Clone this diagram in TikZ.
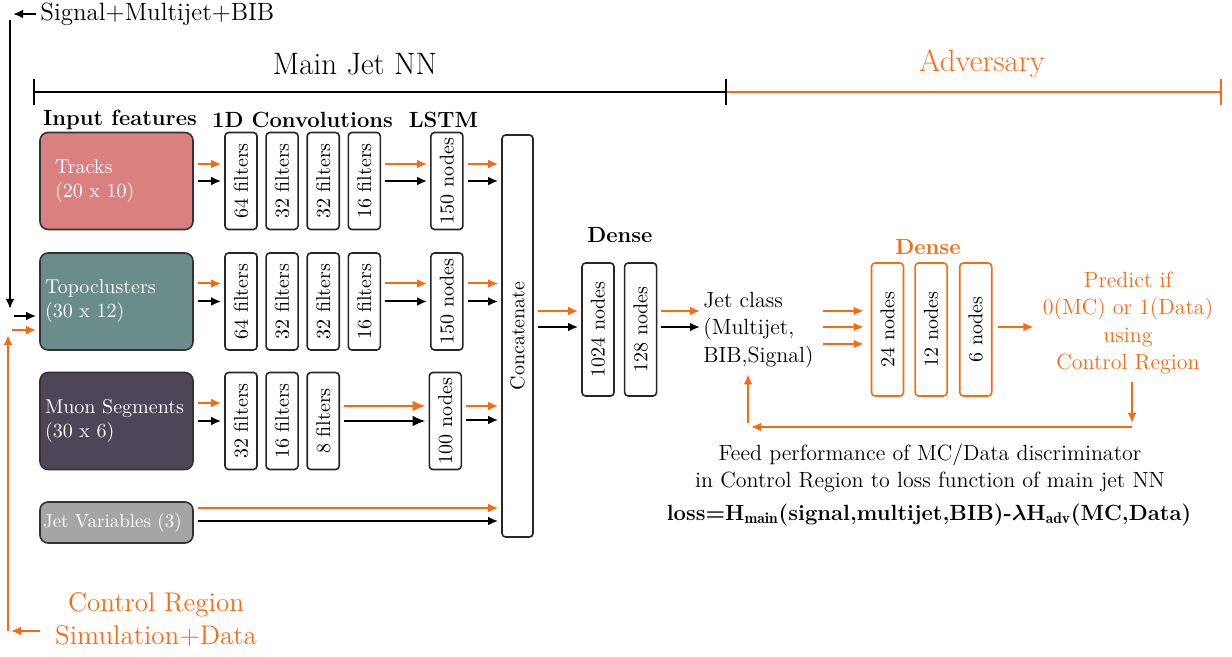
\documentclass[tikz,border=0pt]{standalone}
\usepackage{fontspec}
\usepackage{amsmath}
\usetikzlibrary{arrows.meta, positioning, calc}
\definecolor{advOrange}{RGB}{249,106,18}
\definecolor{trackRed}{RGB}{219,128,128}
\definecolor{topoTeal}{RGB}{106,141,140}
\definecolor{muonPurple}{RGB}{79,69,89}
\definecolor{jetGrey}{RGB}{165,165,165}

\begin{document}
\begin{tikzpicture}[x=0.5pt, y=-0.5pt,
      inbox/.style={rounded corners=4pt, draw=black!80, line width=0.8pt, minimum width=76.5pt, minimum height=48.5pt,
      text width=71.5pt, inner xsep=2.5pt, align=left, text=white, font=\fontsize{10}{12}\selectfont},
      layer/.style={rounded corners=1.8pt, draw=black!85, fill=white, line width=0.8pt, minimum width=16pt,
      minimum height=48.5pt, inner sep=0pt, font=\fontsize{10}{12}\selectfont},
      advlayer/.style={layer, draw=advOrange},
      head/.style={font=\fontsize{11}{13}\selectfont\bfseries},
      karr/.style={-{Latex[length=5pt,width=4.4pt]}, line width=1pt, shorten <=2pt, shorten >=1.5pt},
      oarr/.style={karr, draw=advOrange},
      karrB/.style={karr, -{Latex[length=6.5pt,width=5.5pt]}, line width=1.2pt},
      oarrB/.style={karrB, draw=advOrange}
    ]
    \useasboundingbox (0,0) rectangle (1232,657);

    \node[anchor=west, inner sep=0pt, font=\fontsize{12.5}{15}\selectfont] (sig) at (40,14) {Signal+Multijet+BIB};
    \node[font=\fontsize{15.5}{18}\selectfont] (mainlbl) at (355,64) {Main Jet NN};
    \node[font=\fontsize{15.5}{18}\selectfont, text=advOrange] (advlbl) at (982,64) {Adversary};
    \coordinate (mjL) at (33,92);
    \coordinate (mjR) at (727,92);
    \coordinate (advR) at (1222,92);
    \draw[advOrange, line width=1.2pt, -{Bar[width=13pt]}] (mjR) -- (advR);
    \draw[line width=1.2pt, {Bar[width=13pt]}-{Bar[width=13pt]}] (mjL) -- (mjR);

    \node[head] (hin) at (120,120) {Input features};
    \node[head] (hconv) at (302.5,120) {1D Convolutions};
    \node[head] (hlstm) at (443.5,120) {LSTM};

    \node[inbox, fill=trackRed, inner xsep=7.5pt, text width=61.5pt] (tracks) at (116.5,181) {Tracks\\(20 x 10)};
    \node[inbox, fill=topoTeal] (topo) at (116.5,301.5) {Topoclusters\\(30 x 12)};
    \node[inbox, fill=muonPurple] (muon) at (116.5,421) {Muon Segments\\(30 x 6)};
    \node[inbox, fill=jetGrey, minimum height=20.5pt, inner xsep=1.5pt, text width=73.5pt,
      font=\fontsize{9.5}{12}\selectfont] (jetvar) at (116.5,522.5) {Jet Variables (3)};

    \node[layer] (t1) at (241,181) {\rotatebox{90}{64 filters}};
    \node[layer, right=3.75pt of t1] (t2) {\rotatebox{90}{32 filters}};
    \node[layer, right=3.75pt of t2] (t3) {\rotatebox{90}{32 filters}};
    \node[layer, right=3.75pt of t3] (t4) {\rotatebox{90}{16 filters}};
    \node[layer, right=24.5pt of t4] (tl) {\rotatebox{90}{150 nodes}};

    \node[layer] (p1) at (241,301.5) {\rotatebox{90}{64 filters}};
    \node[layer, right=3.75pt of p1] (p2) {\rotatebox{90}{32 filters}};
    \node[layer, right=3.75pt of p2] (p3) {\rotatebox{90}{32 filters}};
    \node[layer, right=3.75pt of p3] (p4) {\rotatebox{90}{16 filters}};
    \node[layer, right=24.5pt of p4] (pl) {\rotatebox{90}{150 nodes}};

    \node[layer] (m1) at (241,421) {\rotatebox{90}{32 filters}};
    \node[layer, right=3.75pt of m1] (m2) {\rotatebox{90}{16 filters}};
    \node[layer, right=3.75pt of m2] (m3) {\rotatebox{90}{8 filters}};
    \node[layer, right=44.25pt of m3] (ml) {\rotatebox{90}{100 nodes}};

    \node[layer, minimum width=15.5pt, minimum height=201pt] (concat) at (517.5,336) {\rotatebox{90}{Concatenate}};

    \node[head] (hdense) at (620,235) {Dense};
    \node[layer, minimum height=66.5pt] (d1) at (598,329.5) {\rotatebox{90}{1024 nodes}};
    \node[layer, minimum height=66.5pt, right=4.5pt of d1] (d2) {\rotatebox{90}{128 nodes}};
    \node[anchor=west, align=left, inner sep=0pt, font=\fontsize{11}{13.75}\selectfont] (jetcls) at (703,330)
      {Jet class\\(Multijet,\\BIB,Signal)};

    \node[head, text=advOrange] (hadv) at (928,247) {Dense};
    \node[advlayer, minimum height=66.5pt] (a1) at (887.5,329.5) {\rotatebox{90}{24 nodes}};
    \node[advlayer, minimum height=66.5pt, right=5pt of a1] (a2) {\rotatebox{90}{12 nodes}};
    \node[advlayer, minimum height=66.5pt, right=5.5pt of a2] (a3) {\rotatebox{90}{6 nodes}};
    \node[align=center, text=advOrange, inner sep=4pt, font=\fontsize{11}{13.6}\selectfont] (predict) at (1128,323)
      {Predict if\\0(MC) or 1(Data)\\using\\Control Region};

    \node[align=center, font=\fontsize{11}{13.5}\selectfont] (feed) at (930,468.5)
      {Feed performance of MC/Data discriminator\\in Control Region to loss function of main jet NN};
    \node[font=\fontsize{11}{13}\selectfont\bfseries\boldmath] (loss) at (929,515)
      {loss$=$H$_{\mathrm{main}}$(signal,multijet,BIB)-$\lambda$H$_{\mathrm{adv}}$(MC,Data)};

    \node[align=center, text=advOrange, inner sep=0pt, font=\fontsize{13.5}{16.5}\selectfont] (cr) at (156,619.5)
      {Control Region\\Simulation+Data};

    \coordinate (kCorner) at (10,14);
    \coordinate (kTop) at (10,20);
    \coordinate (kBot) at (10,312);
    \coordinate (oTop) at (8,332);
    \coordinate (oBot) at (8,631);
    \coordinate (fbR) at (1132,427);
    \coordinate (fbL) at (748,427);

    \draw[karr] (sig.west) -- (kCorner);
    \draw[karr, shorten <=0pt] (kTop) -- (kBot);
    \draw[karr] ([yshift=-7.25pt]topo.west -| kBot) -- ([yshift=-7.25pt]topo.west);
    \draw[oarr, shorten <=7.5pt] (cr.west |- oBot) -- (oBot);
    \draw[oarr, shorten <=0pt] (oBot) -- (oTop);
    \draw[oarr] ([yshift=-14.25pt]topo.west -| oTop) -- ([yshift=-14.25pt]topo.west);

    \draw[oarr] ([yshift=8.5pt]tracks.east) -- ([yshift=8.5pt]t1.west);
    \draw[karr] (tracks.east) -- (t1.west);
    \draw[oarr] ([yshift=8.5pt]t4.east) -- ([yshift=8.5pt]tl.west);
    \draw[karr] (t4.east) -- (tl.west);
    \draw[oarr] ([yshift=8.5pt]tl.east) -- ([yshift=8.5pt]tl.east -| concat.west);
    \draw[karr] (tl.east) -- (tl.east -| concat.west);

    \draw[oarr] ([yshift=9pt]topo.east) -- ([yshift=9pt]p1.west);
    \draw[karr] (topo.east) -- (p1.west);
    \draw[oarr] ([yshift=9pt]p4.east) -- ([yshift=9pt]pl.west);
    \draw[karr] (p4.east) -- (pl.west);
    \draw[oarr] ([yshift=9pt]pl.east) -- ([yshift=9pt]pl.east -| concat.west);
    \draw[karr] (pl.east) -- (pl.east -| concat.west);

    \draw[oarr] ([yshift=9pt]muon.east) -- ([yshift=9pt]m1.west);
    \draw[karr] (muon.east) -- (m1.west);
    \draw[oarrB] ([yshift=7.5pt]m3.east) -- ([yshift=7.5pt]ml.west);
    \draw[karrB] (m3.east) -- (ml.west);
    \draw[oarr] ([yshift=7.5pt]ml.east) -- ([yshift=7.5pt]ml.east -| concat.west);
    \draw[karr] ([yshift=0.5pt]ml.east) -- ([yshift=0.5pt]ml.east -| concat.west);

    \draw[oarr] ([yshift=7.25pt]jetvar.east) -- ([yshift=7.25pt]jetvar.east -| concat.west);
    \draw[karr] ([yshift=0.75pt]jetvar.east) -- ([yshift=0.75pt]jetvar.east -| concat.west);

    \draw[oarr] ([yshift=9.25pt]d1.west -| concat.east) -- ([yshift=9.25pt]d1.west);
    \draw[karr] ([yshift=1.25pt]d1.west -| concat.east) -- ([yshift=1.25pt]d1.west);
    \draw[oarr] ([yshift=9.25pt]d2.east) -- ([yshift=9.25pt]d2.east -| jetcls.west);
    \draw[karr] ([yshift=1.25pt]d2.east) -- ([yshift=1.25pt]d2.east -| jetcls.west);

    \foreach \dy in {9.25,1.25,-7.25}
      \draw[oarr, shorten <=4.5pt, shorten >=3.5pt] ([yshift=\dy pt]a1.west -| jetcls.east) -- ([yshift=\dy pt]a1.west);
    \draw[oarr, shorten <=2.5pt, shorten >=0.5pt] ([yshift=1.25pt]a3.east) -- ([yshift=1.25pt]a3.east -| predict.west);

    \draw[oarr, shorten <=0pt, shorten >=0pt] (predict.south -| fbR) -- ([yshift=2pt]fbR);
    \draw[oarr, shorten <=0pt] (fbR) -- (fbL);
    \draw[oarr, shorten <=0pt, shorten >=3pt] ([yshift=2pt]fbL) -- (jetcls.south -| fbL);
  \end{tikzpicture}
\end{document}
